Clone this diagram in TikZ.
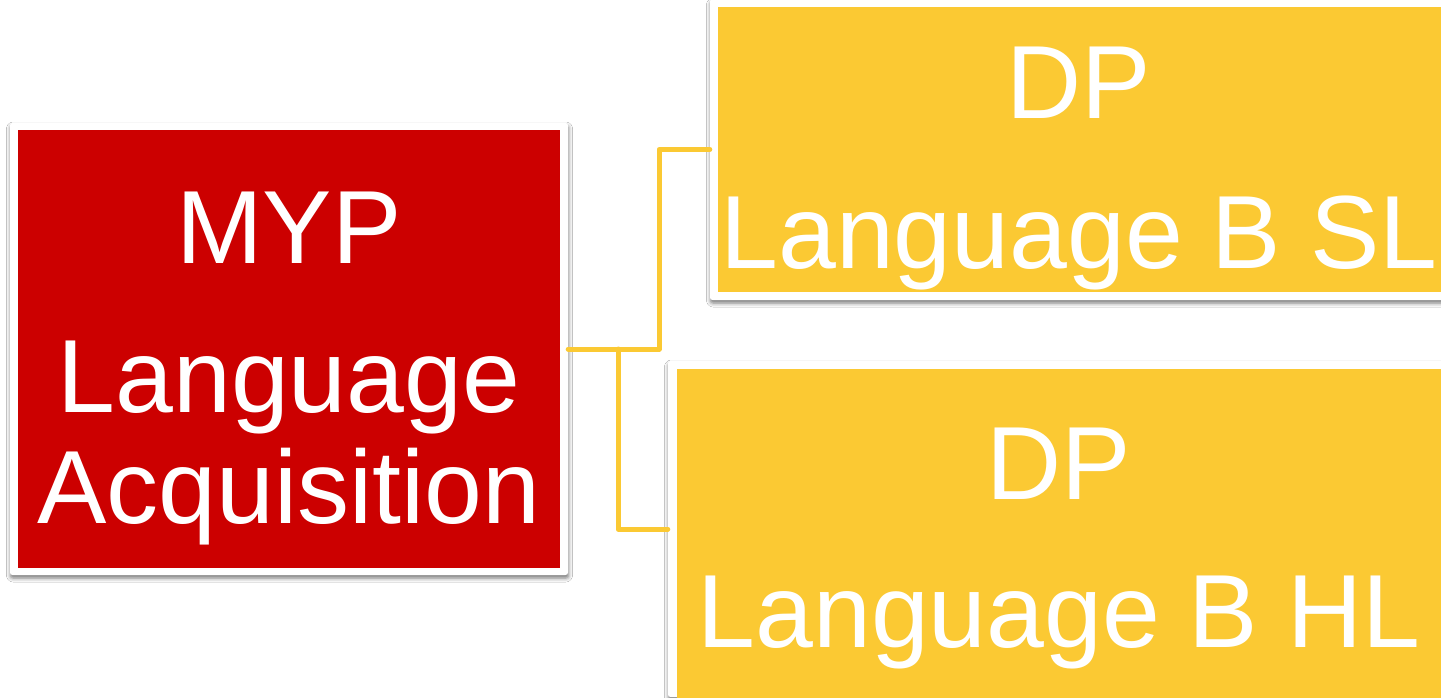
\documentclass[tikz,border=0pt]{standalone}
\usepackage{fontspec}
\setmainfont{Liberation Sans}
\usetikzlibrary{shadows.blur}
\definecolor{mypred}{HTML}{CC0000}
\definecolor{dpyellow}{HTML}{FBC933}
\definecolor{linkyellow}{HTML}{FBC933}
\begin{document}
\begin{tikzpicture}[x=1pt,y=-1pt,
  frame/.style={rectangle,draw=none,fill=white,rounded corners=2.5pt,inner sep=0pt,
    blur shadow={shadow xshift=0.5pt,shadow yshift=-3pt,shadow blur radius=4pt,shadow opacity=55}},
  panel/.style={rectangle,draw=none,inner sep=0pt},
  label/.style={text=white,font=\fontsize{104}{115}\selectfont,anchor=base,inner sep=0pt},
  link/.style={draw=linkyellow,line width=5pt,line join=round,line cap=round}]
\useasboundingbox (0,0) rectangle (1441,698);
\clip (0,0) rectangle (1441,698);
\fill[white] (0,0) rectangle (1441,698);
% frames
\node[frame,minimum width=558pt,minimum height=452pt] (redframe) at (289,349) {};
\node[panel,fill=mypred,minimum width=542pt,minimum height=438pt] (red) at (289,349) {};
\node[frame,minimum width=740pt,minimum height=301pt] (slframe) at (1080,149.5) {};
\node[panel,fill=dpyellow,minimum width=740pt,minimum height=285pt] (sl) at (1088,149.5) {};
\node[frame,minimum width=790pt,minimum height=336pt] (hlframe) at (1063,529) {};
\node[panel,fill=dpyellow,minimum width=790pt,minimum height=330pt] (hl) at (1072,534) {};
% connectors
\coordinate (split) at (618,349);
\draw[link] (redframe.east) -- (659,349) |- (slframe.west);
\draw[link] (split) |- (hlframe.west);
% texts
\node[label] (t1) at (289,263) {MYP};
\node[label] (t2) at (289,412) {Language};
\node[label] (t3) at (289,523) {Acquisition};
\node[label] (t4) at (1079,119) {DP};
\node[label] (t5) at (1079,268) {Language B SL};
\node[label] (t6) at (1059,499) {DP};
\node[label] (t7) at (1059,647) {Language B HL};
\end{tikzpicture}
\end{document}
